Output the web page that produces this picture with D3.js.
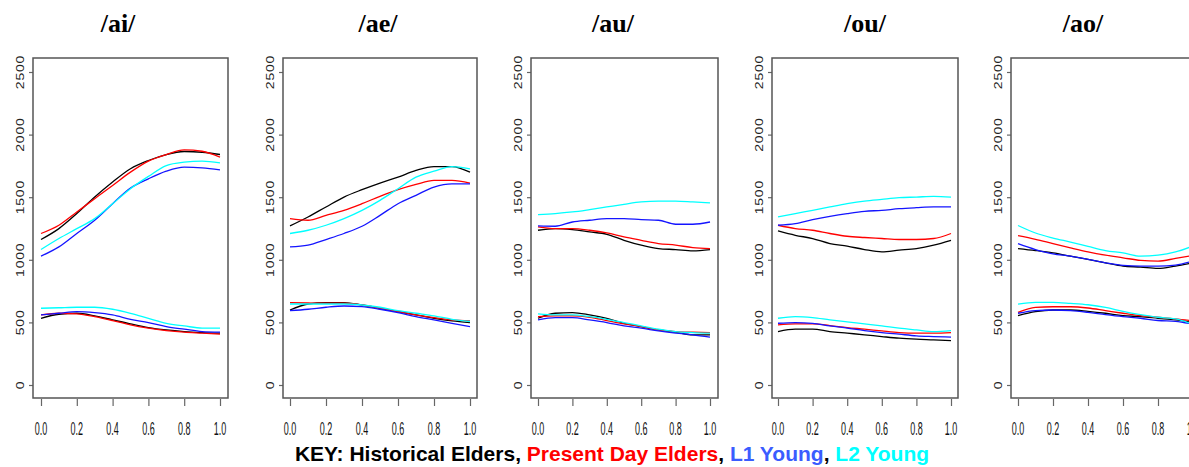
<!DOCTYPE html>
<html>
<head>
<meta charset="utf-8">
<script src="https://cdn.jsdelivr.net/npm/d3@7"></script>
<style>
body { margin: 0; background: #fff; }
svg { display: block; }
</style>
</head>
<body>
<script>
/* DATA - normalised time, vowels, speaker groups */
const timePts = [0, 0.1, 0.2, 0.3, 0.4, 0.5, 0.6, 0.7, 0.8, 0.9, 1.0]
const vowels = ['/ai/', '/ae/', '/au/', '/ou/', '/ao/']
const groups = ['Historical Elders', 'Present Day Elders', 'L1 Young', 'L2 Young']
const yTicks = [0, 500, 1000, 1500, 2000, 2500]
const xTicks = [0, 0.2, 0.4, 0.6, 0.8, 1.0]

// rows follow the groups order: historical, present day, L1, L2
const aiF2 = [
    [1162, 1249, 1369, 1501, 1621, 1727, 1793, 1841, 1865, 1859, 1841],
    [1210, 1276, 1382, 1488, 1594, 1700, 1788, 1841, 1878, 1867, 1820],
    [1029, 1103, 1210, 1316, 1448, 1573, 1647, 1708, 1740, 1735, 1719],
    [1082, 1170, 1249, 1329, 1448, 1568, 1666, 1753, 1780, 1788, 1775]
]
const aiF1 = [
    [533, 565, 573, 552, 520, 488, 459, 440, 427, 419, 414],
    [560, 573, 568, 546, 515, 480, 454, 435, 422, 414, 406],
    [560, 573, 586, 578, 560, 525, 499, 467, 446, 427, 422],
    [613, 617, 621, 621, 605, 573, 533, 493, 472, 454, 454]
]
const aeF2 = [
    [1271, 1342, 1422, 1501, 1560, 1613, 1660, 1714, 1745, 1745, 1700],
    [1329, 1316, 1355, 1395, 1448, 1507, 1560, 1602, 1634, 1634, 1613],
    [1103, 1117, 1162, 1210, 1268, 1355, 1448, 1515, 1581, 1607, 1607],
    [1210, 1236, 1276, 1329, 1395, 1475, 1568, 1660, 1708, 1745, 1727]
]
const aeF1 = [
    [599, 647, 658, 658, 639, 613, 586, 560, 533, 512, 499],
    [658, 655, 653, 653, 639, 613, 586, 560, 538, 520, 512],
    [594, 605, 621, 631, 626, 605, 578, 546, 520, 493, 467],
    [647, 647, 647, 647, 639, 621, 594, 573, 552, 525, 507]
]
const auF2 = [
    [1236, 1249, 1241, 1223, 1204, 1156, 1117, 1090, 1082, 1072, 1082],
    [1263, 1249, 1249, 1236, 1215, 1183, 1156, 1130, 1117, 1098, 1090],
    [1271, 1268, 1302, 1316, 1329, 1329, 1321, 1316, 1284, 1284, 1302],
    [1361, 1369, 1382, 1401, 1422, 1443, 1462, 1469, 1469, 1462, 1454]
]
const auF1 = [
    [533, 573, 578, 560, 533, 493, 467, 440, 422, 401, 401],
    [546, 552, 552, 541, 515, 488, 467, 440, 427, 422, 419],
    [520, 538, 538, 520, 499, 472, 454, 432, 414, 401, 382],
    [568, 560, 560, 546, 525, 499, 472, 446, 427, 419, 414]
]
const ouF2 = [
    [1231, 1196, 1170, 1130, 1109, 1082, 1064, 1077, 1090, 1117, 1156],
    [1276, 1249, 1236, 1210, 1188, 1178, 1170, 1162, 1162, 1170, 1210],
    [1276, 1289, 1321, 1347, 1369, 1387, 1395, 1408, 1416, 1422, 1422],
    [1342, 1369, 1395, 1422, 1448, 1469, 1483, 1496, 1501, 1507, 1501]
]
const ouF1 = [
    [427, 446, 446, 427, 414, 401, 387, 374, 366, 361, 355],
    [480, 488, 488, 475, 459, 446, 432, 419, 414, 414, 419],
    [493, 499, 493, 472, 454, 435, 419, 406, 393, 387, 382],
    [533, 546, 538, 520, 504, 488, 472, 454, 440, 427, 435]
]
const aoF2 = [
    [1090, 1074, 1055, 1029, 1003, 976, 950, 942, 931, 950, 975],
    [1193, 1164, 1129, 1095, 1063, 1037, 1016, 995, 989, 1011, 1035],
    [1129, 1082, 1047, 1029, 1003, 976, 955, 950, 950, 958, 990],
    [1274, 1214, 1174, 1142, 1108, 1074, 1055, 1029, 1037, 1063, 1110]
]
const aoF1 = [
    [554, 586, 599, 599, 588, 573, 554, 546, 533, 520, 500],
    [580, 620, 625, 625, 615, 594, 573, 554, 541, 528, 512],
    [573, 594, 599, 594, 580, 562, 546, 533, 515, 509, 485],
    [646, 660, 660, 652, 641, 620, 588, 562, 541, 528, 485]
]

const formants = [[aiF1, aiF2], [aeF1, aeF2], [auF1, auF2], [ouF1, ouF2], [aoF1, aoF2]]

/* LAYOUT */
const lineColors = ['#000000', '#ff0000', '#1414ff', '#00ffff']
const keyColors = ['#000000', '#ff0000', '#3a5cff', '#00ffff']
const dim = { width: 1189, height: 467 }
const boxTop = 58, boxBottom = 398
// box edges, x range and title centre for each panel
const panels = [
    { left: 33, right: 228, x0: 41, x1: 220, title: 118 },
    { left: 283, right: 477, x0: 290, x1: 470, title: 378 },
    { left: 531, right: 718, x0: 538, x1: 710, title: 613 },
    { left: 772, right: 958, x0: 778, x1: 951, title: 865 },
    { left: 1011, right: 1206, x0: 1018, x1: 1193, title: 1083 }
]

const svg = d3.select('body').append('svg')
    .attr('width', dim.width)
    .attr('height', dim.height)
    .style('background', '#fff')

const scaleY = d3.scaleLinear([0, 2500], [385, 72])

panels.forEach((p, i) => {
    const scaleX = d3.scaleLinear([0, 1], [p.x0, p.x1])
    const g = svg.append('g')

    // title
    g.append('text')
        .attr('x', p.title)
        .attr('y', 32)
        .attr('text-anchor', 'middle')
        .attr('font-family', 'Liberation Serif, Times New Roman, serif')
        .attr('font-weight', 'bold')
        .attr('font-size', 26)
        .text(vowels[i])

    // y axis: ticks on the box left side, labels rotated
    const axisY = d3.axisLeft(scaleY).tickValues(yTicks).tickSize(4).tickSizeOuter(0).tickFormat('')
    const yAxisGroup = g.append('g').attr('transform', `translate(${p.left},0)`).call(axisY)
    yAxisGroup.select('.domain').remove()
    yAxisGroup.selectAll('line').attr('stroke', '#666').attr('stroke-width', 1.2)
    g.selectAll('.ylab').data(yTicks).enter().append('text')
        .attr('class', 'ylab')
        .attr('transform', d => `translate(${p.left - 9},${scaleY(d)}) rotate(-90) scale(1,0.75)`)
        .attr('text-anchor', 'middle')
        .attr('font-family', 'Liberation Sans, Arial, sans-serif')
        .attr('font-size', 14)
        .attr('letter-spacing', 0.8)
        .attr('fill', '#222')
        .text(d => d)

    // x axis: ticks hanging below the box
    const axisX = d3.axisBottom(scaleX).tickValues(xTicks).tickSize(7).tickSizeOuter(0).tickFormat('')
    const xAxisGroup = g.append('g').attr('transform', `translate(0,${boxBottom + 1})`).call(axisX)
    xAxisGroup.select('.domain').remove()
    xAxisGroup.selectAll('line').attr('stroke', '#666').attr('stroke-width', 1.2)
    g.selectAll('.xlab').data(xTicks).enter().append('text')
        .attr('class', 'xlab')
        .attr('transform', d => `translate(${scaleX(d)},435) scale(0.5,1)`)
        .attr('text-anchor', 'middle')
        .attr('font-family', 'Liberation Sans, Arial, sans-serif')
        .attr('font-size', 18)
        .attr('fill', '#111')
        .text(d => d.toFixed(1))

    // frame
    g.append('rect')
        .attr('x', p.left)
        .attr('y', boxTop)
        .attr('width', p.right - p.left)
        .attr('height', boxBottom - boxTop)
        .attr('fill', 'none')
        .attr('stroke', '#555')
        .attr('stroke-width', 1.5)

    // formant tracks, F1 and F2 for every group
    const line = d3.line()
        .x((d, j) => scaleX(timePts[j]))
        .y(d => scaleY(d))
        .curve(d3.curveMonotoneX)
    formants[i].forEach(track => {
        track.forEach((vals, k) => {
            g.append('path')
                .attr('d', line(vals))
                .attr('fill', 'none')
                .attr('stroke', lineColors[k])
                .attr('stroke-width', 1.3)
        })
    })
})

/* KEY */
const key = svg.append('text')
    .attr('x', 612)
    .attr('y', 461)
    .attr('text-anchor', 'middle')
    .attr('font-family', 'Liberation Sans, Arial, sans-serif')
    .attr('font-weight', 'bold')
    .attr('font-size', 21)
key.append('tspan').attr('fill', '#000').text('KEY: ')
groups.forEach((name, k) => {
    key.append('tspan').attr('fill', keyColors[k]).text(name)
    if (k < groups.length - 1) key.append('tspan').attr('fill', '#000').text(', ')
})
</script>
</body>
</html>
